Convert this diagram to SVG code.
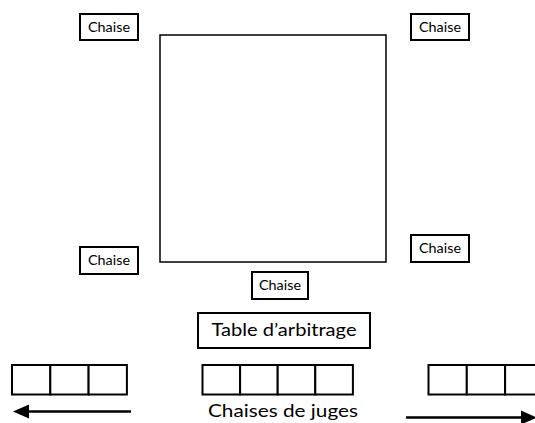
<svg xmlns="http://www.w3.org/2000/svg" width="535" height="423" viewBox="0 0 535 423">
<defs>
<style>
.box{fill:#fff;stroke:#000;stroke-width:2}
.sq{fill:none;stroke:#000;stroke-width:1.5}
.lbl{font-family:Lato,"Liberation Sans",Arial,sans-serif;fill:#000;text-anchor:middle}
.ch{font-size:13.5px}
.big{font-size:17.5px}
.ln{stroke:#000;stroke-width:2.5;fill:none}
</style>
</defs>
<rect width="535" height="423" fill="#fff"/>
<g id="ring"><rect class="sq" x="160" y="35" width="226" height="227"/></g>
<g id="chaise-tl"><rect class="box" x="80" y="14" width="58" height="26"/><text class="lbl ch" x="109" y="31.5" textLength="42" lengthAdjust="spacingAndGlyphs">Chaise</text></g>
<g id="chaise-tr"><rect class="box" x="411" y="14" width="58" height="26"/><text class="lbl ch" x="440" y="31.5" textLength="42" lengthAdjust="spacingAndGlyphs">Chaise</text></g>
<g id="chaise-bl"><rect class="box" x="80" y="247" width="58" height="27"/><text class="lbl ch" x="109" y="265" textLength="42" lengthAdjust="spacingAndGlyphs">Chaise</text></g>
<g id="chaise-br"><rect class="box" x="411" y="235" width="58" height="27"/><text class="lbl ch" x="440" y="253" textLength="42" lengthAdjust="spacingAndGlyphs">Chaise</text></g>
<g id="chaise-c"><rect class="box" x="252" y="272" width="56" height="27"/><text class="lbl ch" x="280" y="290" textLength="42" lengthAdjust="spacingAndGlyphs">Chaise</text></g>
<g id="table"><rect class="box" x="198" y="313" width="172" height="35"/><text class="lbl big" x="284" y="336" textLength="145" lengthAdjust="spacingAndGlyphs">Table d’arbitrage</text></g>
<g id="bench-left">
<rect class="box" x="12" y="365" width="38.3" height="29.5"/>
<rect class="box" x="50.3" y="365" width="38.3" height="29.5"/>
<rect class="box" x="88.6" y="365" width="38.3" height="29.5"/>
</g>
<g id="bench-mid">
<rect class="box" x="202.5" y="365" width="37.6" height="29.5"/>
<rect class="box" x="240.1" y="365" width="37.6" height="29.5"/>
<rect class="box" x="277.7" y="365" width="37.6" height="29.5"/>
<rect class="box" x="315.3" y="365" width="37.6" height="29.5"/>
</g>
<g id="bench-right">
<rect class="box" x="428.5" y="365" width="38.3" height="29.5"/>
<rect class="box" x="466.8" y="365" width="38.3" height="29.5"/>
<rect class="box" x="505.1" y="365" width="38.3" height="29.5"/>
</g>
<g id="label-juges"><text class="lbl big" x="283" y="417" textLength="150" lengthAdjust="spacingAndGlyphs">Chaises de juges</text></g>
<g id="connectors">
<line class="ln" x1="131" y1="411.5" x2="28" y2="411.5"/>
<path d="M13,411.5 L29,404.5 L29,418.5 z" fill="#000"/>
<line class="ln" x1="406" y1="417.5" x2="522" y2="417.5"/>
<path d="M537,417.5 L521,410.5 L521,424.5 z" fill="#000"/>
</g>
</svg>
